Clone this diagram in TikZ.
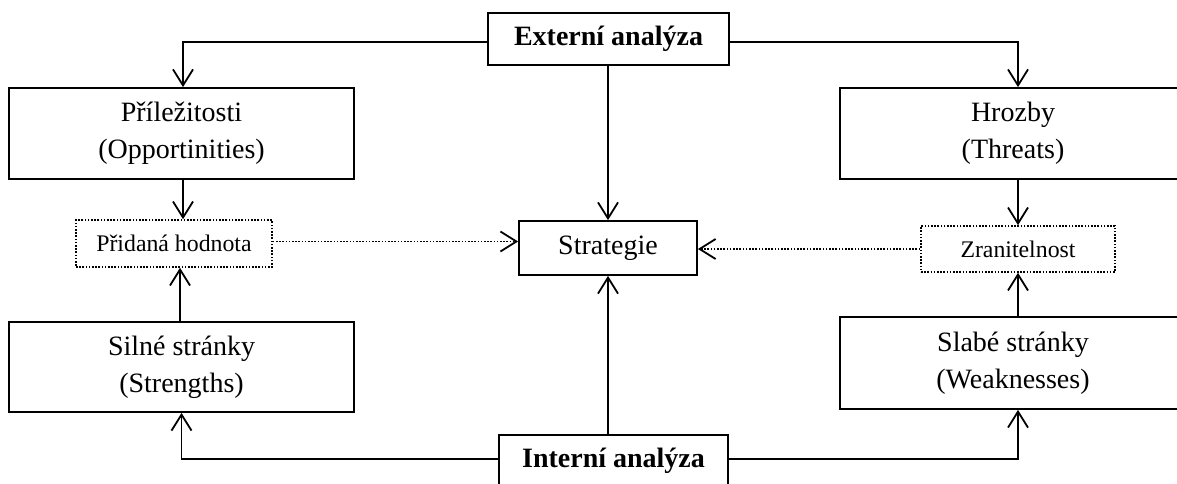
\documentclass[tikz,border=0pt]{standalone}
\usepackage{fontspec}
\setmainfont{Liberation Serif}
\usetikzlibrary{arrows.meta}
\begin{document}
\begin{tikzpicture}[x=1pt,y=-1pt,
  line width=1.8pt,
  box/.style={draw, rectangle, inner sep=0pt, align=center,
    font=\fontsize{28}{37}\selectfont},
  headbox/.style={box, font=\fontsize{28}{34}\selectfont\bfseries},
  dotbox/.style={draw, rectangle, inner sep=0pt, align=center,
    line width=1.6pt, dash pattern=on 1.6pt off 1.6pt,
    font=\fontsize{23.8}{28}\selectfont},
  arr/.style={-{Straight Barb[length=16pt,width=20pt,line width=1.8pt]}},
  dotarr/.style={arr, line width=1.6pt, dash pattern=on 1.6pt off 1.6pt}]
\useasboundingbox (0,0) rectangle (1177,484);
\clip (0,0) rectangle (1177,484);

% analysis headers
\node[headbox, minimum width=241pt, minimum height=52pt] (ext) at (608.5,39) {Externí analýza};
\node[headbox, minimum width=229pt, minimum height=52pt] (int) at (613.5,461) {Interní analýza};

% SWOT boxes
\node[box, minimum width=345pt, minimum height=91pt] (prl) at (181.5,133.5) {Příležitosti\\(Opportinities)};
\node[box, minimum width=346pt, minimum height=91pt] (hro) at (1013,133.5) {Hrozby\\(Threats)};
\node[box, minimum width=345pt, minimum height=90pt] (sil) at (181.5,367) {Silné stránky\\(Strengths)};
\node[box, minimum width=346pt, minimum height=92pt] (sla) at (1013,363) {Slabé stránky\\(Weaknesses)};

% derived boxes
\node[dotbox, minimum width=196pt, minimum height=47pt] (prid) at (174,243.5) {Přidaná hodnota};
\node[dotbox, minimum width=194pt, minimum height=46pt] (zran) at (1018,249) {Zranitelnost};
\node[box, minimum width=178pt, minimum height=54pt] (str) at (608,248) {Strategie};

% external analysis branches
\draw[arr] ([yshift=-3pt]ext.west) -| ([xshift=1.5pt]prl.north);
\draw[arr] ([yshift=-3pt]ext.east) -| (zran.north |- hro.north);
\draw[arr] (ext.south -| str.north) -- (str.north);

% internal analysis branches
\draw[arr] ([yshift=2pt]int.west) -| (sil.south);
\draw[arr] ([yshift=2pt]int.east) -| (zran.south |- sla.south);
\draw[arr] (str.south |- int.north) -- (str.south);

% into the derived boxes
\draw[arr] ([xshift=1.5pt]prl.south) -- ([xshift=1.5pt]prl.south |- prid.north);
\draw[arr] ([xshift=-1.5pt]sil.north) -- ([xshift=-1.5pt]sil.north |- prid.south);
\draw[arr] (zran.north |- hro.south) -- (zran.north);
\draw[arr] (zran.south |- sla.north) -- (zran.south);

% towards the strategy
\draw[dotarr] ([yshift=2pt]prid.east) -- ([yshift=2pt]prid.east -| str.west);
\draw[dotarr] (zran.west) -- (zran.west -| str.east);
\end{tikzpicture}
\end{document}
